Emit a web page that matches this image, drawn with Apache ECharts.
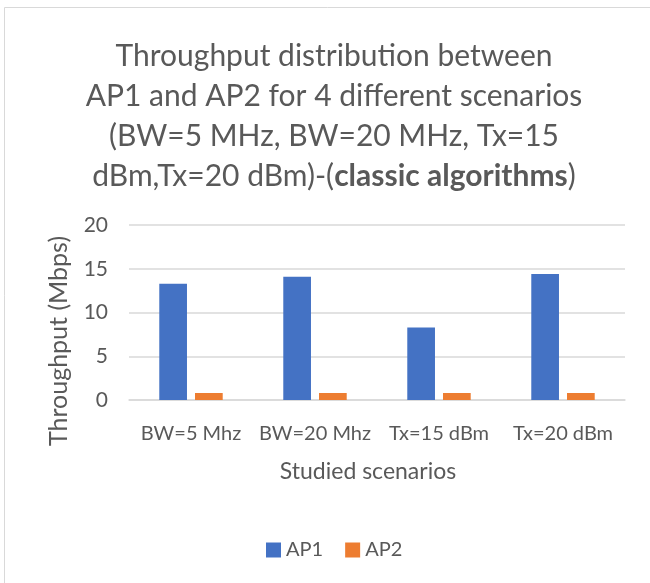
<!DOCTYPE html>
<html><head><meta charset="utf-8">
<script src="https://cdn.jsdelivr.net/npm/echarts@6/dist/echarts.min.js"></script>
<style>html,body{margin:0;padding:0;background:#fff}#c{width:650px;height:583px}</style>
</head><body><div id="c"></div>
<script>
const categories = ['BW=5 Mhz', 'BW=20 Mhz', 'Tx=15 dBm', 'Tx=20 dBm'];
const ap1 = [13.3, 14.1, 8.3, 14.4];
const ap2 = [0.8, 0.8, 0.8, 0.8];
const yTicks = [0, 5, 10, 15, 20];
const FONT = 'Lato';
const chart = echarts.init(document.getElementById('c'), null, {renderer: 'canvas'});
chart.setOption({
  animation: false,
  textStyle: {fontFamily: FONT, color: '#595959'},
  graphic: [
    {type: 'rect', shape: {x: 4.5, y: 7.5, width: 700, height: 600}, style: {fill: 'none', stroke: '#d9d9d9', lineWidth: 1}, silent: true},
    {type: 'text', x: 59, y: 341, rotation: Math.PI / 2, silent: true,
     style: {text: 'Throughput (Mbps)', fontFamily: FONT, fontSize: 25, fill: '#595959', align: 'center', verticalAlign: 'middle'}}
  ],
  title: {
    left: 329, top: 31, textAlign: 'center',
    text: '{n|Throughput distribution between}\n{n|AP1 and AP2 for 4 different scenarios}\n{n|(BW=5 MHz, BW=20 MHz, Tx=15}\n{n|dBm,Tx=20 dBm)-(}{b|classic algorithms}{n|)}',
    textStyle: {
      fontWeight: 'normal',
      rich: {
        n: {fontFamily: FONT, fontSize: 30, color: '#595959', fontWeight: 'normal', lineHeight: 40},
        b: {fontFamily: FONT, fontSize: 30, color: '#595959', fontWeight: 'bold', lineHeight: 40}
      }
    }
  },
  legend: {
    top: 535, left: 261, itemWidth: 15, itemHeight: 15, itemGap: 22,
    icon: 'rect',
    textStyle: {fontFamily: FONT, fontSize: 20, color: '#595959'},
    data: ['AP1', 'AP2']
  },
  grid: {left: 129, right: 25, top: 225, bottom: 183, containLabel: false},
  xAxis: {
    type: 'category', data: categories,
    name: 'Studied scenarios', nameLocation: 'middle', nameGap: 60,
    nameTextStyle: {fontFamily: FONT, fontSize: 23, color: '#595959', padding: [0, 18, 0, 0]},
    axisLine: {lineStyle: {color: '#d9d9d9', width: 1.5}},
    axisTick: {show: false},
    axisLabel: {fontFamily: FONT, fontSize: 20, color: '#595959', margin: 24, interval: 0}
  },
  yAxis: {
    type: 'value', min: 0, max: 20, interval: 5,
    axisLine: {show: false}, axisTick: {show: false},
    axisLabel: {fontFamily: FONT, fontSize: 21, color: '#595959', margin: 21,
      formatter: v => yTicks.includes(v) ? String(v) : ''},
    splitLine: {lineStyle: {color: '#d9d9d9', width: 1.5}}
  },
  series: [
    {name: 'AP1', type: 'bar', data: ap1, barWidth: 27.7, barGap: '29%', itemStyle: {color: '#4472C4'}},
    {name: 'AP2', type: 'bar', data: ap2, barWidth: 27.7, itemStyle: {color: '#ED7D31'}}
  ]
});
</script></body></html>
